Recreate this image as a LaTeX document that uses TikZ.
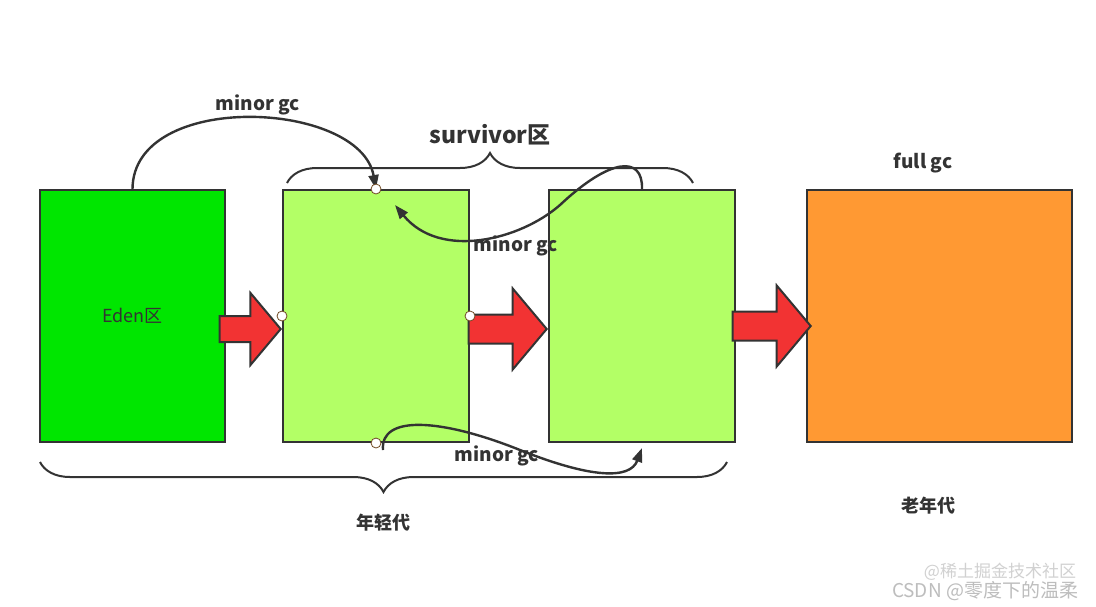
\documentclass[tikz,border=0pt]{standalone}
\usepackage{fontspec}
\setmainfont{Noto Sans CJK SC}
\usetikzlibrary{arrows.meta,shapes.arrows,decorations.pathreplacing}
\definecolor{ink}{HTML}{333333}
\definecolor{edengreen}{HTML}{00E600}
\definecolor{survgreen}{HTML}{B3FF66}
\definecolor{oldorange}{HTML}{FF9933}
\definecolor{arrowred}{HTML}{F23333}
\definecolor{mark}{HTML}{BDBDBD}
\tikzset{area/.style={draw=ink,line width=1pt,minimum height=126pt,inner sep=0pt,
    font=\fontsize{9}{11}\selectfont,text=ink},
  pushar/.style={single arrow,draw=ink,fill=arrowred,line width=1pt,inner sep=0pt,
    minimum width=0pt,single arrow tip angle=100},
  port/.style={circle,draw=ink!70!orange,fill=white,line width=.4pt,minimum size=5pt,inner sep=0pt},
  gcline/.style={draw=ink,line width=1.2pt,-{Triangle[length=7pt,width=5pt]}},
  band/.style={draw=ink,line width=1pt,decorate,decoration={brace,amplitude=15pt}},
  lbl/.style={font=\bfseries\fontsize{9.5}{11}\selectfont,text=ink}}

\begin{document}
\begin{tikzpicture}[x=.5pt,y=-.5pt]
  \path[use as bounding box,fill=white] (0,0) rectangle (1096,606);
  % memory areas
  \node[area,fill=edengreen,minimum width=92.5pt] (eden) at (132.5,316) {Eden区};
  \node[area,fill=survgreen,minimum width=93pt] (s1) at (376,316) {};
  \node[area,fill=survgreen,minimum width=93pt] (s2) at (642,316) {};
  \node[area,fill=oldorange,minimum width=132.5pt] (old) at (939.5,316) {};
  % promotion arrows
  \node[pushar,anchor=tip,minimum height=30.5pt,inner ysep=6pt,single arrow head extend=11.5pt]
    (push1) at ([yshift=-6.5pt]s1.west) {};
  \node[pushar,anchor=tip,minimum height=39pt,inner ysep=6.75pt,single arrow head extend=13pt]
    (push2) at ([yshift=-6.5pt]s2.west) {};
  \node[pushar,anchor=tip,minimum height=39pt,inner ysep=6.75pt,single arrow head extend=13pt]
    (push3) at ([xshift=3pt,yshift=-5pt]old.west) {};
  % minor gc paths
  \coordinate (backtip) at (395,205);
  \coordinate (s1low) at (383,450);
  \draw[gcline] (eden.north) .. controls (133,90) and (360,100) .. (s1.north);
  \draw[gcline] (s2.north) .. controls (643,155) and (610,158) .. (560,205)
    .. controls (520,240) and (440,260) .. (backtip);
  \draw[gcline] (s1low) .. controls (380,415) and (440,418) .. (520,450)
    .. controls (590,478) and (630,480) .. ([yshift=-2.5pt]s2.south);
  \foreach \a in {north,west,east,south}{\node[port] at (s1.\a) {};}
  % braces
  \draw[band] (287,183) -- (693,183);
  \draw[band] (727,462) -- (40,462);
  % labels
  \node[lbl] (gcA) at (258,105) {minor gc};
  \node[lbl] (gcB) at (516,246) {minor gc};
  \node[lbl] (gcC) at (497,456) {minor gc};
  \node[lbl] (gcF) at (923,163) {full gc};
  \node[lbl,font=\bfseries\fontsize{11.5}{13}\selectfont] (survname) at (490,135) {survivor区};
  \node[lbl,font=\bfseries\fontsize{9}{11}\selectfont] (young) at (383,523) {年轻代};
  \node[lbl,font=\bfseries\fontsize{9}{11}\selectfont] (tenured) at (928,506) {老年代};
  \node[text=mark!70,font=\fontsize{8.5}{10}\selectfont] (wmA) at (1000,572) {@稀土掘金技术社区};
  \node[text=mark,font=\fontsize{9.5}{11}\selectfont] (wmB) at (985,591) {CSDN @零度下的温柔};
\end{tikzpicture}
\end{document}
